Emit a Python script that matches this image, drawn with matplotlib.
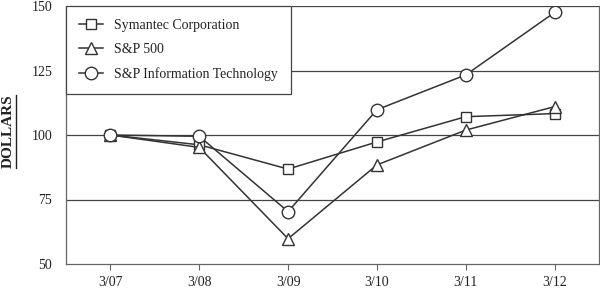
import matplotlib
matplotlib.use("Agg")
import matplotlib.pyplot as plt
from matplotlib.lines import Line2D

categories = ["3/07", "3/08", "3/09", "3/10", "3/11", "3/12"]
symantec = [100, 96.2, 86.8, 97.3, 107.1, 108.3]
sp500 = [100, 95.2, 59.8, 88.4, 101.9, 111.0]
sp_it = [100, 99.5, 70.3, 109.8, 123.3, 147.5]
series_labels = ["Symantec Corporation", "S&P 500", "S&P Information Technology"]
yticks = [50, 75, 100, 125, 150]

plt.rcParams['font.family'] = ['Liberation Serif', 'DejaVu Serif']

fig = plt.figure(figsize=(6.0, 2.91), dpi=100)
ax = fig.add_axes([66/600, 1-264/291, (599-66)/600, (264-6)/291])

lc = '#333333'
x = list(range(len(categories)))
ax.plot(x, symantec, color=lc, lw=1.1, marker='s', ms=7.5, mfc='white', mec=lc, mew=1.0, label=series_labels[0], zorder=3)
ax.plot(x, sp500, color=lc, lw=1.1, marker='^', ms=8.5, mfc='white', mec=lc, mew=1.0, label=series_labels[1], zorder=3)
ax.plot(x, sp_it, color=lc, lw=1.1, marker='o', ms=9, mfc='white', mec=lc, mew=1.0, label=series_labels[2], zorder=3)

ax.set_xlim(-0.5, len(categories) - 0.5)
ax.set_ylim(50, 150)
ax.set_xticks(x)
ax.set_xticklabels(categories, fontsize=10)
ax.set_yticks(yticks)
ax.set_yticklabels([str(v) for v in yticks], fontsize=10)
for v in yticks[1:]:
    ax.axhline(v, color='#444444', lw=0.9, zorder=1)

ax.tick_params(axis='y', length=0, pad=10, colors='#222222')
ax.tick_params(axis='x', length=4, width=0.8, color='#666666', pad=5, labelcolor='#222222')
for s in ['left', 'bottom', 'right']:
    ax.spines[s].set_color('#666666')
    ax.spines[s].set_linewidth(0.9)
ax.spines['top'].set_visible(False)

leg = ax.legend(loc='upper left', bbox_to_anchor=(0, 1), borderaxespad=0,
                fancybox=False, framealpha=1, edgecolor='#444444',
                fontsize=10, handlelength=1.7, handletextpad=0.8,
                labelspacing=0.8, borderpad=0.95)
leg.get_frame().set_linewidth(0.9)
leg.set_zorder(5)
for t in leg.get_texts():
    t.set_color('#222222')

fig.text(8/600, 1-131/291, "DOLLARS", rotation=90, ha='center', va='center',
         fontsize=11, fontweight='bold', color='#222222')
fig.add_artist(Line2D([15.5/600, 15.5/600], [1-168/291, 1-95/291],
                      transform=fig.transFigure, color='#222222', lw=1.0))

fig.savefig("out.png", dpi=100)
